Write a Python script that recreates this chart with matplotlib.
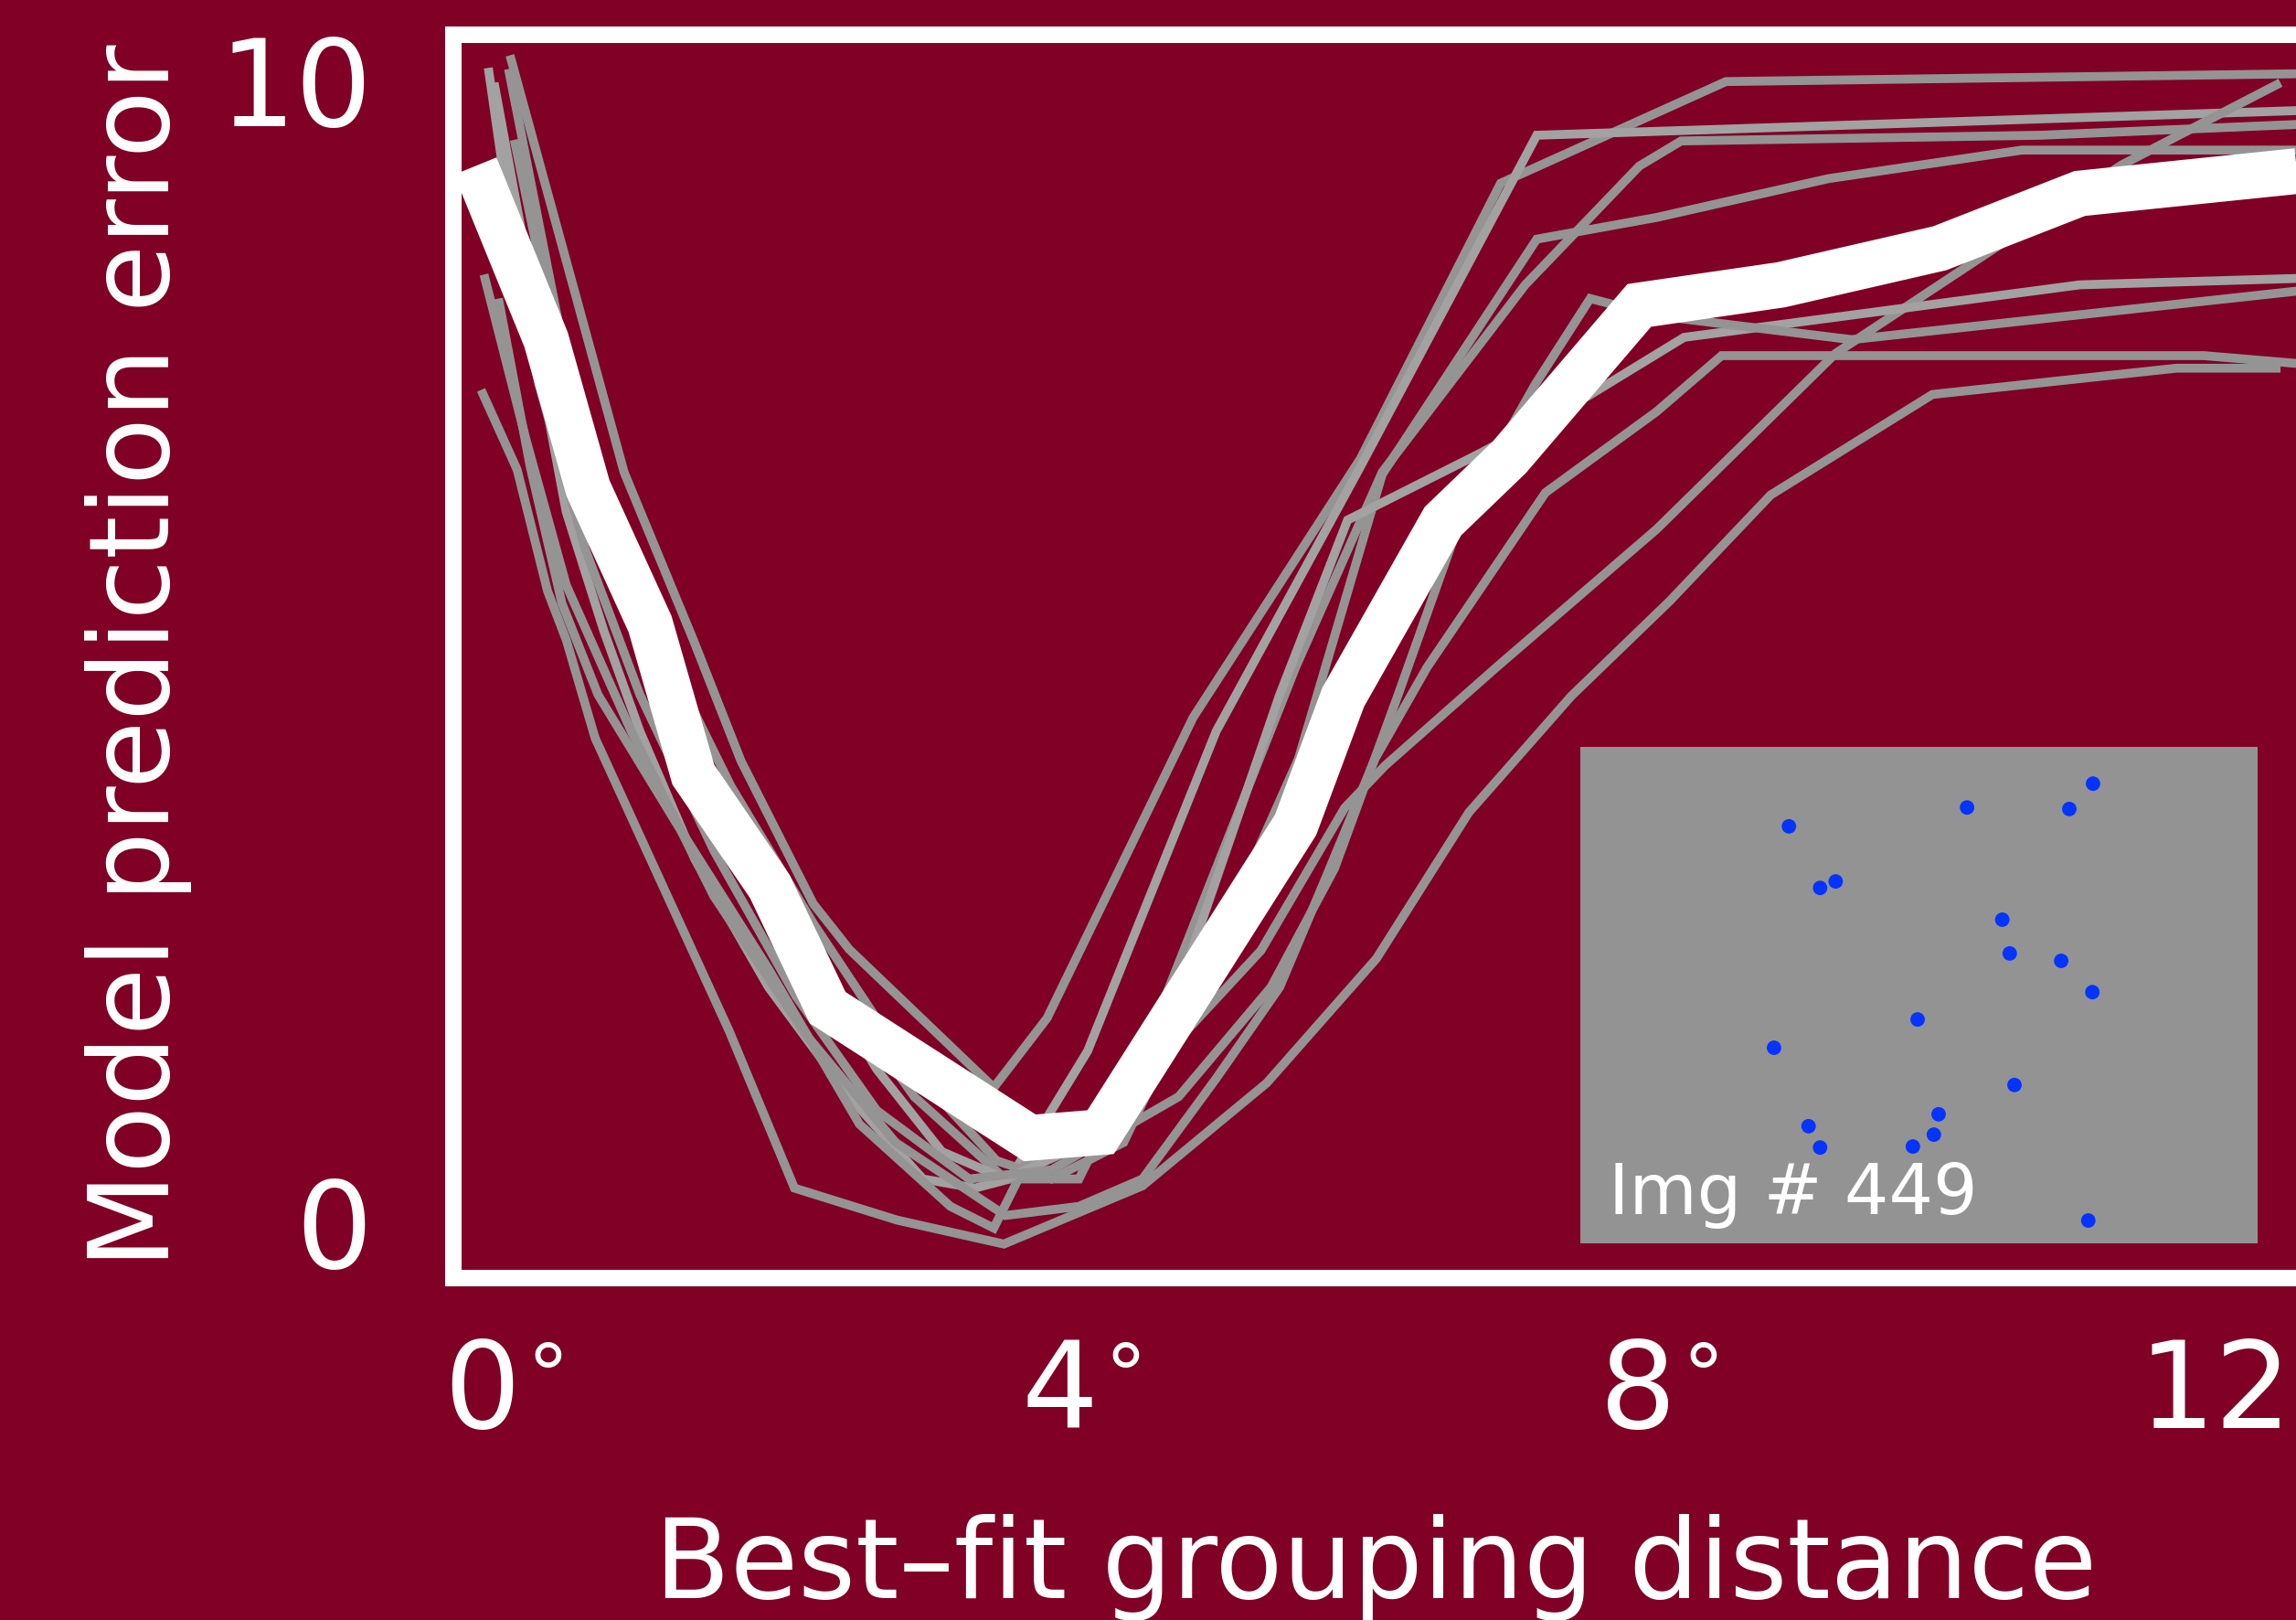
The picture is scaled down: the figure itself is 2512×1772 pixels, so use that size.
import matplotlib
matplotlib.use("Agg")
import matplotlib.pyplot as plt
import matplotlib.transforms as mtransforms

# ============================================================
# DATA
# ============================================================
# individual fits (grey)
g1_x = [0.24, 1.03, 1.51, 1.84, 2.34, 2.59, 3.59, 3.96, 4.97, 6.13, 7.10, 8.66, 12.72]
g1_y = [10.22, 6.57, 5.10, 4.04, 2.79, 2.39, 1.18, 1.79, 4.42, 6.69, 9.10, 9.99, 10.06]

g2_x = [0.09, 0.25, 0.44, 0.63, 0.89, 1.14, 1.52, 2.03, 2.59, 3.10, 3.46, 3.70, 4.24, 5.13, 6.13, 7.35, 12.72]
g2_y = [10.11, 8.70, 7.50, 6.22, 5.18, 4.30, 3.18, 2.06, 1.10, 0.38, 0.30, 0.38, 1.50, 4.30, 6.62, 9.52, 9.74]

g3_x = [0.23, 0.51, 0.76, 1.14, 1.71, 2.41, 3.04, 3.67, 4.18, 4.68, 5.68, 6.28, 7.27, 8.06, 8.35, 10.84, 12.72]
g3_y = [10.10, 8.30, 6.70, 5.18, 3.58, 2.22, 1.10, 0.38, 0.38, 1.66, 4.86, 6.57, 8.21, 9.25, 9.47, 9.52, 9.62]

g4_x = [0.27, 0.57, 0.89, 1.27, 1.77, 2.34, 2.97, 3.61, 3.99, 4.49, 4.94, 5.70, 6.28, 7.35, 8.18, 9.37, 10.71, 12.72]
g4_y = [9.48, 7.66, 6.22, 5.10, 3.82, 2.62, 1.42, 0.54, 0.38, 0.70, 1.90, 4.06, 6.55, 8.61, 8.80, 9.14, 9.39, 9.39]

g5_x = [0.16, 0.38, 0.60, 0.85, 1.39, 2.03, 2.66, 3.29, 3.59, 3.82, 4.62, 5.44, 6.02, 6.30, 7.07, 8.18, 9.42, 10.52, 11.40, 12.50]
g5_y = [8.09, 6.62, 5.42, 4.62, 3.50, 2.22, 0.86, 0.14, -0.05, 0.53, 1.26, 2.38, 3.63, 4.00, 4.86, 6.07, 7.61, 8.53, 9.26, 9.98]

g6_x = [0.13, 0.41, 0.76, 1.20, 1.71, 2.28, 2.78, 3.23, 3.67, 4.24, 4.94, 5.57, 6.04, 6.95, 7.71, 8.37, 11.11, 12.72]
g6_y = [9.98, 8.06, 6.54, 5.10, 3.66, 2.38, 1.34, 0.62, 0.38, 0.70, 2.30, 4.62, 6.15, 6.73, 7.24, 7.75, 8.21, 8.27]

g7_x = [0.18, 0.44, 0.76, 1.14, 1.65, 2.22, 2.78, 3.42, 3.99, 4.87, 5.51, 5.95, 6.39, 6.84, 7.34, 7.72, 8.18, 9.53, 12.72]
g7_y = [9.10, 7.34, 5.90, 4.62, 3.26, 1.98, 0.98, 0.38, 0.46, 1.10, 2.06, 3.10, 4.62, 6.22, 7.34, 8.09, 7.94, 7.73, 8.17]

g8_x = [0.06, 0.35, 0.63, 1.08, 1.65, 2.28, 2.91, 3.67, 4.18, 4.62, 5.13, 5.57, 5.89, 6.23, 6.59, 7.41, 8.18, 8.63, 11.97, 12.72]
g8_y = [8.30, 6.86, 5.58, 4.30, 2.86, 1.66, 0.70, 0.06, 0.14, 0.38, 1.26, 2.06, 3.02, 4.06, 4.86, 6.39, 7.10, 7.59, 7.59, 7.51]

g9_x = [0.04, 0.29, 0.50, 0.63, 0.83, 1.76, 2.21, 2.92, 3.66, 4.62, 5.48, 6.24, 6.88, 7.59, 8.27, 8.97, 10.09, 11.78, 12.50]
g9_y = [7.29, 6.59, 5.53, 5.10, 4.24, 1.67, 0.30, 0.02, -0.19, 0.32, 1.22, 2.31, 3.59, 4.61, 5.44, 6.37, 7.25, 7.48, 7.48]

# average fit (white)
mean_x = [0.00, 0.49, 0.78, 1.21, 1.51, 2.04, 2.44, 3.84, 4.33, 5.68, 6.01, 6.70, 7.16, 8.06, 9.04, 10.14, 11.11, 12.72]
mean_y = [9.25, 7.73, 6.43, 5.24, 3.92, 2.94, 1.88, 0.74, 0.79, 3.48, 4.60, 6.14, 6.70, 8.03, 8.21, 8.53, 9.01, 9.22]

# inset stimulus: dot positions (fraction of the inset)
dot_x = [0.757, 0.571, 0.722, 0.308, 0.377, 0.354, 0.623, 0.634, 0.710, 0.756,
         0.498, 0.286, 0.641, 0.529, 0.337, 0.522, 0.354, 0.491, 0.750]
dot_y = [0.926, 0.878, 0.875, 0.840, 0.729, 0.716, 0.652, 0.584, 0.569, 0.506,
         0.451, 0.394, 0.319, 0.260, 0.236, 0.219, 0.193, 0.195, 0.046]
img_label = "Img # 449"

x_ticks = [0, 4, 8, 12]
y_ticks = [0, 10]

# ============================================================
# STYLE
# ============================================================
bg = "#800026"
grey = "#949494"
grey_light = "#a2a2a2"
plt.rcParams["font.family"] = ["DejaVu Sans"]
plt.rcParams["mathtext.fontset"] = "dejavusans"

fig = plt.figure(figsize=(25.12, 17.72), dpi=100, facecolor=bg)
ax = fig.add_axes([0.19745, 0.21106, 0.80334, 0.76749], facecolor=bg)

grey_lines = [(g1_x, g1_y, grey), (g2_x, g2_y, grey_light), (g3_x, g3_y, grey),
              (g4_x, g4_y, grey), (g5_x, g5_y, grey), (g6_x, g6_y, grey_light),
              (g7_x, g7_y, grey), (g8_x, g8_y, grey), (g9_x, g9_y, grey)]
for xs, ys, c in grey_lines:
    ax.plot(xs, ys, color=c, lw=7, solid_joinstyle="miter", solid_capstyle="butt", zorder=2)

ax.plot(mean_x, mean_y, color="white", lw=36, solid_joinstyle="miter",
        solid_capstyle="butt", zorder=3)

ax.set_xlim(-0.152, 12.62)
ax.set_ylim(-0.488, 10.40)

for sp in ax.spines.values():
    sp.set_color("white")
    sp.set_linewidth(13)
    sp.set_zorder(4)

ax.set_xticks(x_ticks)
ax.set_xticklabels([f"${t}^{{\\circ}}$" for t in x_ticks])
ax.set_yticks(y_ticks)
ax.set_yticklabels([str(t) for t in y_ticks])
ax.tick_params(axis="both", length=0, colors="white", labelsize=95)
ax.tick_params(axis="x", pad=46)
ax.tick_params(axis="y", pad=64)

# labels sit a bit right of the tick (digit centred on the tick)
shift = mtransforms.ScaledTranslation(0.30, 0, fig.dpi_scale_trans)
for lab in ax.get_xticklabels():
    lab.set_transform(lab.get_transform() + shift)

ax.set_xlabel("Best\u2013fit grouping distance", color="white", fontsize=87, labelpad=48)
ax.set_ylabel("Model prediction error", color="white", fontsize=87, labelpad=21)

# inset with the stimulus image
ins = fig.add_axes([1729 / 2512, 1 - 1360 / 1772, 741 / 2512, 543 / 1772], facecolor="#939393")
ins.scatter(dot_x, dot_y, s=130, color="#0533ff", edgecolors="none")
ins.set_xlim(0, 1)
ins.set_ylim(0, 1)
ins.set_xticks([])
ins.set_yticks([])
for sp in ins.spines.values():
    sp.set_visible(False)
ins.text(0.042, 0.059, img_label, color="white", fontsize=55, transform=ins.transAxes,
         ha="left", va="baseline")

fig.savefig("out.png", dpi=100, facecolor=bg)
